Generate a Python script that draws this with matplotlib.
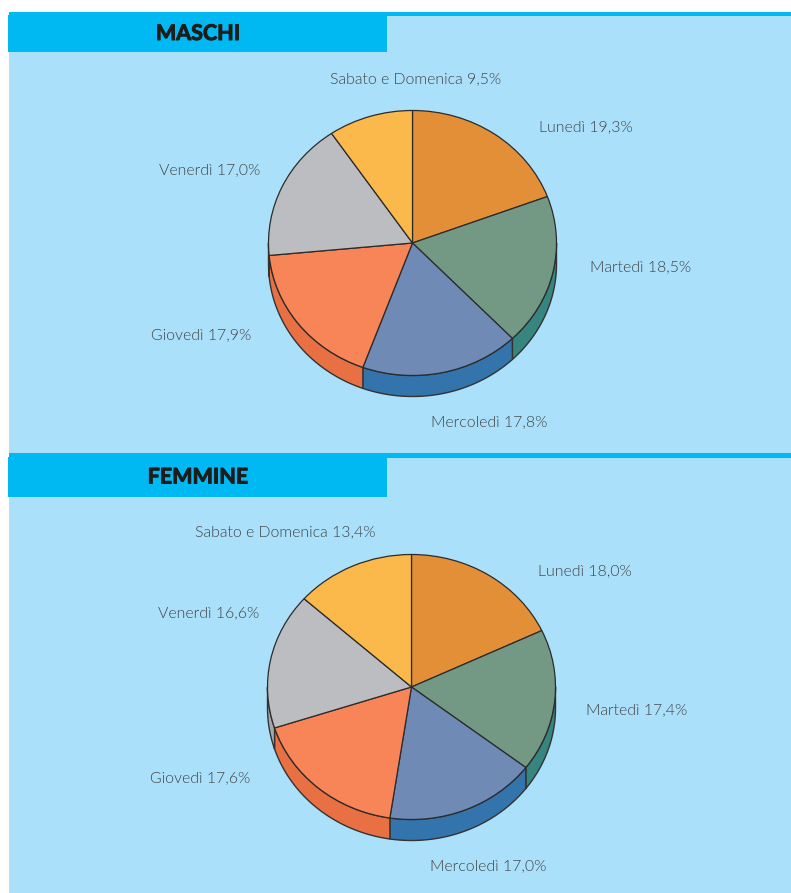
import numpy as np
import matplotlib
matplotlib.use("Agg")
import matplotlib.pyplot as plt
import matplotlib.patheffects as pe
from matplotlib.patches import Rectangle

W, H = 791, 893

giorni = ["Lunedì", "Martedì", "Mercoledì", "Giovedì", "Venerdì", "Sabato e Domenica"]
maschi = [19.3, 18.5, 17.8, 17.9, 17.0, 9.5]
femmine = [18.0, 17.4, 17.0, 17.6, 16.6, 13.4]

col_top = ["#e38f37", "#739985", "#6e8ab5", "#f88558", "#bcbdc0", "#fbb94b"]
col_side = ["#c97a28", "#37857f", "#3474ad", "#e87042", "#a6a7aa", "#e0a030"]

# posizione etichette in pixel (centro)
pos_m = [(586, 127), (641, 267), (489, 422), (201, 335), (210, 170), (416, 79)]
pos_f = [(585, 571), (637, 710), (488, 866), (200, 778), (209, 613), (285, 532)]

plt.rcParams['font.family'] = ['Lato', 'DejaVu Sans']

fig = plt.figure(figsize=(W / 100, H / 100), dpi=100)
bg = fig.add_axes([0, 0, 1, 1])
bg.set_xlim(0, W)
bg.set_ylim(H, 0)
bg.axis('off')

# sfondo e testate
bg.add_patch(Rectangle((9, 12), W - 9, H - 12, color="#abe0fb", lw=0))
for y0, y1, y2, titolo, xt in [(11.5, 16, 52, "MASCHI", 198), (453, 458, 497, "FEMMINE", 198)]:
    bg.add_patch(Rectangle((9, y0), W - 9, y1 - y0, color="#00b9f2", lw=0))
    bg.add_patch(Rectangle((8, y1 - 1), 379, y2 - y1 + 1, color="#00b9f2", lw=0))
    t = bg.text(xt, (y1 + y2) / 2 - 0.5, titolo, ha='center', va='center', fontsize=15.5,
                fontweight='bold', color="#1d1d1b")
    t.set_path_effects([pe.withStroke(linewidth=0.7, foreground="#1d1d1b")])


def torta(cx, cy, rx, ry, depth, valori, pos):
    # assi con unità diverse su x e y: la torta diventa un'ellisse
    marg = 1.05
    dy = depth / ry
    left = cx - marg * rx
    bottom = H - (cy + (marg + dy) * ry)
    ax = fig.add_axes([left / W, bottom / H, 2 * marg * rx / W, (2 * marg + dy) * ry / H])
    ax.patch.set_alpha(0)

    # bordo laterale visibile (metà inferiore dell'ellisse)
    tagli = np.cumsum([0] + valori) / 100 * 360
    for i in range(len(valori)):
        a = max(tagli[i], 90)
        b = min(tagli[i + 1], 270)
        if b <= a:
            continue
        t = np.radians(np.linspace(a, b, 80))
        x = np.sin(t)
        y = np.cos(t)
        xs = np.r_[x, x[::-1]]
        ys = np.r_[y, y[::-1] - dy]
        ax.fill(xs, ys, facecolor=col_side[i], edgecolor="#333333", lw=1.0, joinstyle='round')

    ax.pie(valori, colors=col_top, startangle=90, counterclock=False, radius=1,
           wedgeprops=dict(edgecolor="#2b2b2b", linewidth=0.9))
    ax.set_aspect('auto')
    ax.set_xlim(-marg, marg)
    ax.set_ylim(-marg - dy, marg)

    for g, v, (px, py) in zip(giorni, valori, pos):
        lab = f"{g} {v:.1f}%".replace(".", ",")
        bg.text(px, py, lab, ha='center', va='center', fontsize=11.4, fontweight=300,
                color="#3f4345")


torta(412.5, 243, 144, 132.5, 21, maschi, pos_m)
torta(411.5, 687, 144, 132.5, 21, femmine, pos_f)

fig.savefig("out.png", dpi=100)
